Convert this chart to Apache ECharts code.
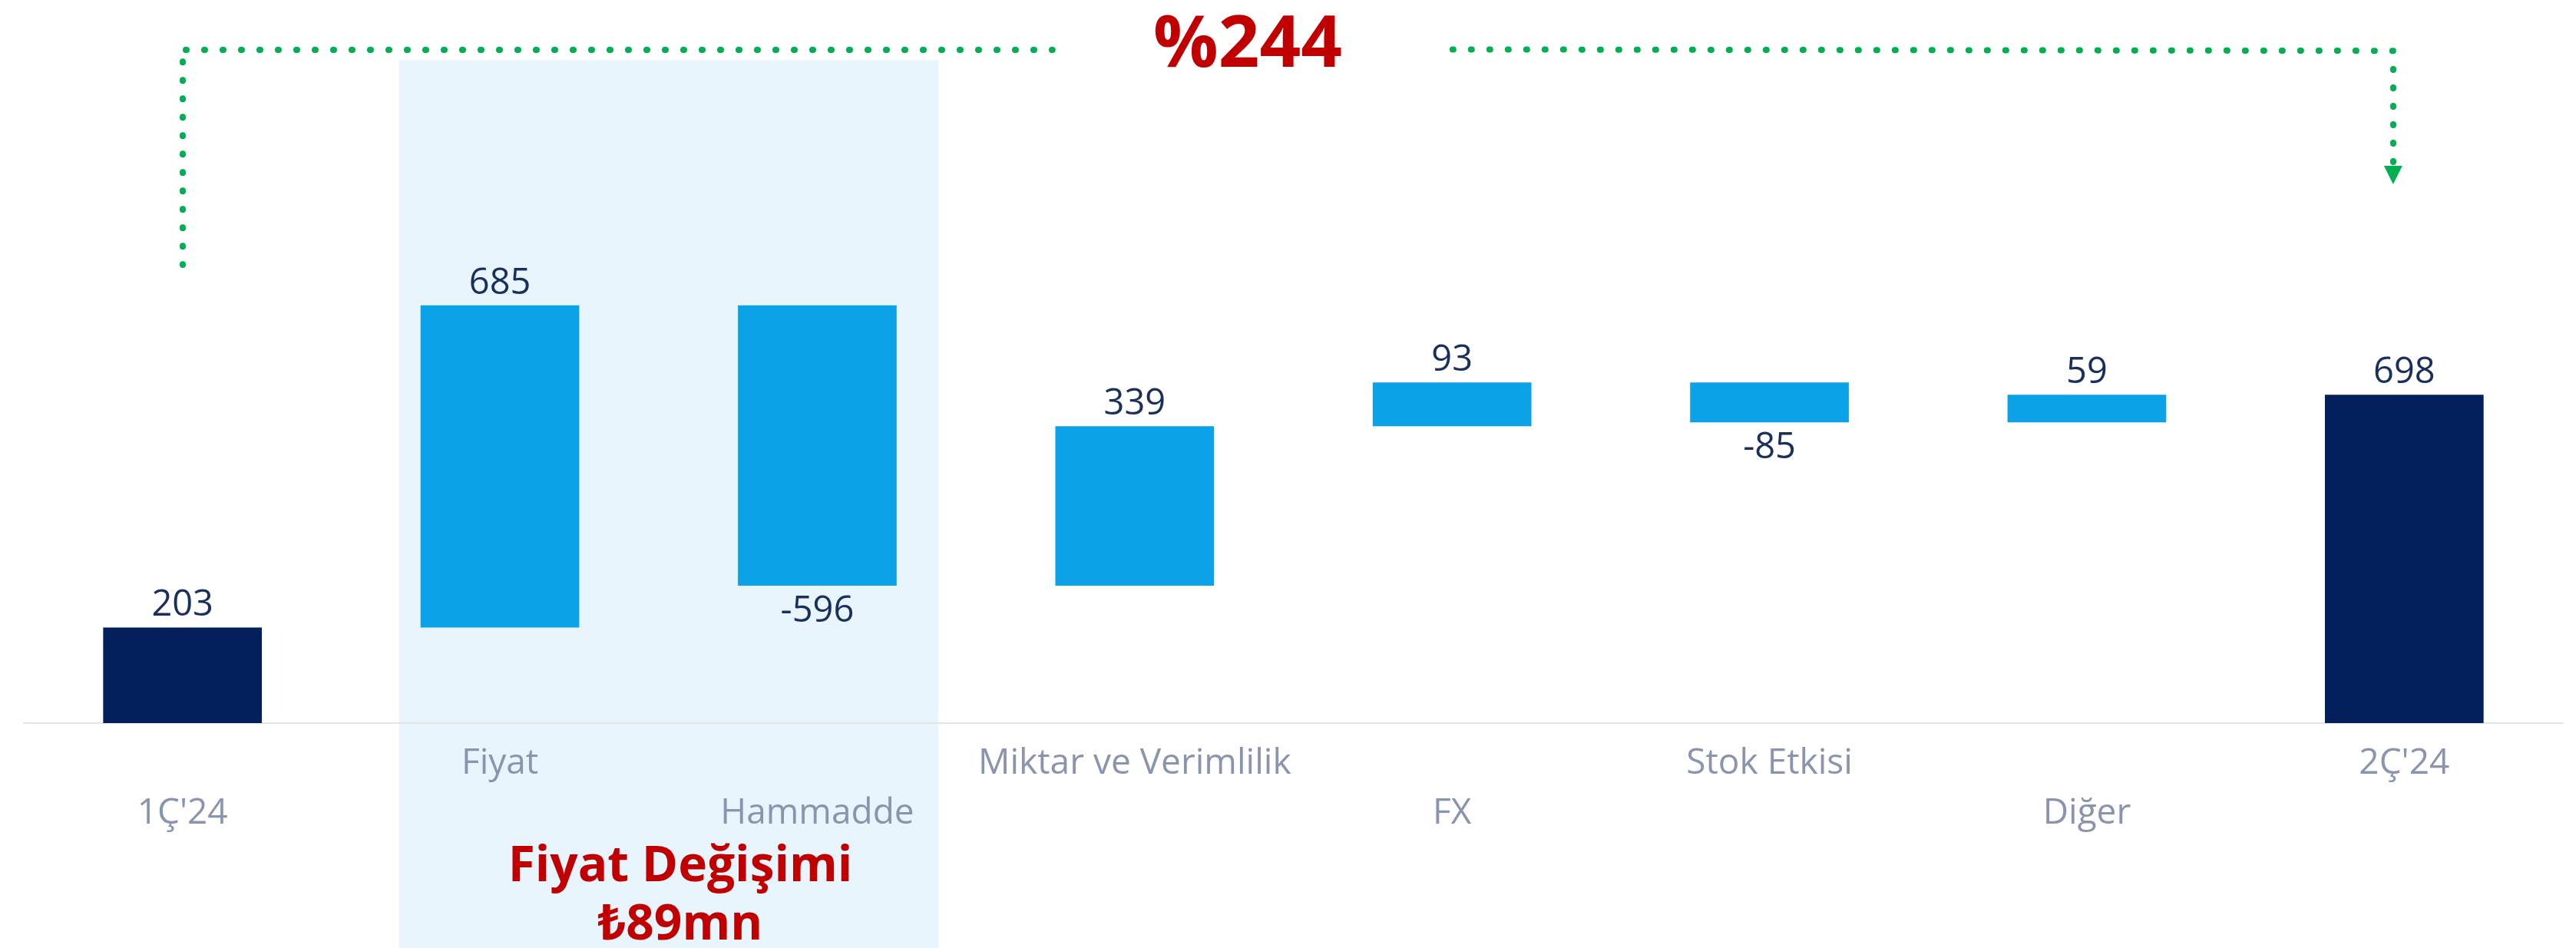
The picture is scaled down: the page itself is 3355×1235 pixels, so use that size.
<!DOCTYPE html>
<html><head><meta charset="utf-8">
<script src="https://cdn.jsdelivr.net/npm/echarts@6/dist/echarts.min.js"></script>
<style>html,body{margin:0;padding:0;background:#fff}#c{width:3355px;height:1235px}</style>
</head><body><div id="c"></div>
<script>
// ---- data ----
const categories = ["1Ç'24", "Fiyat", "Hammadde", "Miktar ve Verimlilik", "FX", "Stok Etkisi", "Diğer", "2Ç'24"];
const changes = [203, 685, -596, 339, 93, -85, 59, 698];
const isTotal = [true, false, false, false, false, false, false, true];
const growthLabel = "%244";
const highlightTitle = "Fiyat Değişimi";
const highlightValue = "₺89mn";
const highlightCats = [1, 2]; // Fiyat .. Hammadde

// ---- waterfall computation ----
const baseVals = [], barVals = [];
let running = 0;
changes.forEach((v, i) => {
  if (isTotal[i]) { baseVals.push(0); barVals.push(v); running = v; }
  else if (v >= 0) { baseVals.push(running); barVals.push(v); running += v; }
  else { running += v; baseVals.push(running); barVals.push(-v); }
});

const FONT = '"Open Sans","Noto Sans","DejaVu Sans",sans-serif';
const NAVY = '#03205d', LIGHT = '#0ca2e8', GREEN = '#00b050', RED = '#c00000';

const barData = barVals.map((v, i) => ({
  value: v,
  itemStyle: { color: isTotal[i] ? NAVY : LIGHT },
  label: {
    show: true,
    position: changes[i] >= 0 ? 'top' : 'bottom',
    distance: changes[i] >= 0 ? 5 : 10,
    formatter: String(changes[i])
  }
}));

// bracket geometry (annotation axes: x = category index, y = data units)
const Y_MIN = -478, Y_MAX = 1537;
const dotStyle = { color: GREEN, width: 8, type: [1, 23], cap: 'round', opacity: 1 };

const chart = echarts.init(document.getElementById('c'), null, { renderer: 'canvas' });
chart.setOption({
  animation: false,
  backgroundColor: '#ffffff',
  grid: [
    { left: 31, right: 17, top: 0, bottom: 293, containLabel: false, outerBoundsMode: 'none' },
    { left: 31, right: 17, top: 0, bottom: 0, containLabel: false, outerBoundsMode: 'none' }
  ],
  xAxis: [
    {
      type: 'category', data: categories, gridIndex: 0, z: 5,
      axisLine: { onZero: false, lineStyle: { color: '#e4e4e4', width: 2 } },
      axisTick: { show: false },
      splitLine: { show: false },
      axisLabel: {
        interval: 0, hideOverlap: false, margin: 20,
        fontSize: 46, lineHeight: 65, color: '#8a94ae', fontFamily: FONT,
        formatter: (v, i) => (i % 2 === 0 ? '\n' + v : v)
      }
    },
    { type: 'value', gridIndex: 1, min: -0.5, max: 7.5, show: false }
  ],
  yAxis: [
    { type: 'value', gridIndex: 0, min: 0, max: Y_MAX, show: false, splitLine: { show: false } },
    { type: 'value', gridIndex: 1, min: Y_MIN, max: Y_MAX, show: false, splitLine: { show: false } }
  ],
  series: [
    {
      type: 'line', xAxisIndex: 1, yAxisIndex: 1, z: 0, zlevel: 0,
      data: [[highlightCats[0], 0]], symbol: 'none', lineStyle: { opacity: 0 }, silent: true,
      markArea: {
        silent: true,
        itemStyle: { color: '#e8f5fd' },
        data: [[{ xAxis: highlightCats[0] - 0.318, yAxis: Y_MIN }, { xAxis: highlightCats[1] + 0.382, yAxis: 1409 }]]
      }
    },
    {
      name: 'base', type: 'bar', stack: 'w', barWidth: '50%', z: 6, xAxisIndex: 0, yAxisIndex: 0,
      itemStyle: { color: 'transparent' }, data: baseVals, silent: true
    },
    {
      name: 'value', type: 'bar', stack: 'w', barWidth: '50%', z: 6, xAxisIndex: 0, yAxisIndex: 0,
      label: { fontSize: 47, color: '#1a2f5c', fontFamily: FONT },
      data: barData
    },
    {
      type: 'lines', coordinateSystem: 'cartesian2d', xAxisIndex: 1, yAxisIndex: 1, z: 7,
      symbol: ['none', 'none'], lineStyle: dotStyle, silent: true,
      data: [
        { coords: [[0, 1406], [0, 974]] },
        { coords: [[0.0104, 1432], [2.741, 1432]] },
        { coords: [[6.965, 1429], [3.958, 1432]] }
      ]
    },
    {
      type: 'lines', coordinateSystem: 'cartesian2d', xAxisIndex: 1, yAxisIndex: 1, z: 7,
      symbol: ['none', 'triangle'], symbolSize: [20, 24], lineStyle: dotStyle, silent: true,
      data: [{ coords: [[6.965, 1390], [6.965, 1165]] }]
    }
  ],
  graphic: [
    {
      type: 'text', left: 1627 - 125, top: 13, z: 10,
      style: { text: growthLabel, font: 'bold 94px ' + FONT, fill: RED, width: 250, align: 'center', textAlign: 'center' }
    },
    {
      type: 'text', x: 886, y: 1168, z: 10,
      style: { text: highlightTitle + '\n' + highlightValue, font: 'bold 64px ' + FONT, fill: RED,
               lineHeight: 76, textAlign: 'center', textVerticalAlign: 'middle', align: 'center', verticalAlign: 'middle' }
    }
  ]
});
</script></body></html>
